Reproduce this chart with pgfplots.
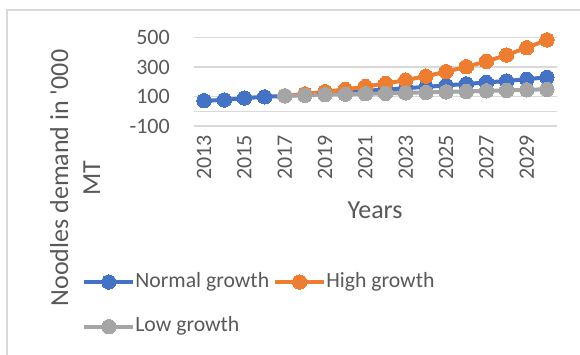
\documentclass[border=0pt]{standalone}
\usepackage{pgfplots}
\pgfplotsset{compat=1.18}
\usepackage{fontspec}
\setmainfont{Carlito}

\definecolor{txt}{HTML}{595959}
\definecolor{gridc}{HTML}{D9D9D9}
\definecolor{nblue}{HTML}{4472C4}
\definecolor{horange}{HTML}{ED7D31}
\definecolor{lgray}{HTML}{A5A5A5}

\pgfplotstableread{
year normal
2013 72
2014 77
2015 90
2016 98
2017 105
2018 114
2019 122
2020 131
2021 139
2022 148
2023 157
2024 166
2025 176
2026 186
2027 196
2028 206
2029 218
2030 231
}\normaldata

\pgfplotstableread{
year high low
2017 105 105
2018 118 109
2019 133 113
2020 149 116
2021 168 119
2022 189 122
2023 212 125
2024 239 128
2025 269 132
2026 303 135
2027 339 139
2028 383 142
2029 432 146
2030 485 150
}\scenariodata

\begin{document}
\begin{tikzpicture}[x=0.75pt,y=-0.75pt]
\useasboundingbox (0,0) rectangle (580,354);
\fill[white] (0,0) rectangle (580,354);
\draw[gridc, line width=0.9pt] (7,400) -- (7,10) -- (620,10);

\begin{axis}[
  at={(145.5pt,-94.5pt)}, anchor=south west,
  scale only axis, width=272.25pt, height=66.2pt,
  xmin=2012.5, xmax=2030.5, ymin=-100, ymax=500,
  clip=false,
  axis line style={draw=none},
  tick style={draw=none},
  ytick={-100,100,300,500},
  yticklabels={-100,100,300,500},
  extra y ticks={0},
  extra y tick labels={},
  extra y tick style={grid=major},
  ymajorgrids,
  major grid style={gridc, line width=1pt},
  xtick={2013,2015,...,2029},
  xticklabels={2013,2015,2017,2019,2021,2023,2025,2027,2029},
  yticklabel style={anchor=east, inner sep=0pt, text=txt, font=\fontsize{16.5}{19}\selectfont},
  yticklabel shift=18pt,
  xticklabel style={rotate=90, anchor=east, inner sep=0pt, text=txt, font=\fontsize{16.5}{19}\selectfont},
  xticklabel shift=6.5pt,
  every axis plot/.append style={line width=3pt, mark=*, mark size=5.4pt},
  legend columns=2,
  legend cell align=left,
  legend style={draw=none, fill=none, inner sep=0pt,
    at={(-0.3085,-1.655)}, anchor=north west,
    font=\fontsize{16.3}{19}\selectfont, text=txt,
    nodes={inner sep=0pt, text height=11pt, text depth=3.5pt},
    row sep=19pt,
    /tikz/every odd column/.append style={column sep=0pt},
    /tikz/every even column/.append style={column sep=3pt}},
  legend image code/.code={
    \draw[mark repeat=2, mark phase=2, #1] plot coordinates {(0pt,0pt) (18.4pt,0pt) (36.8pt,0pt)};
  },
]
\addplot[nblue, mark options={fill=nblue, draw=nblue, line width=0pt}]
  table[x=year, y=normal] {\normaldata};
\addlegendentry{Normal growth}
\addplot[horange, mark options={fill=horange, draw=horange, line width=0pt}]
  table[x=year, y=high] {\scenariodata};
\addlegendentry{High growth}
\addplot[lgray, mark options={fill=lgray, draw=lgray, line width=0pt}]
  table[x=year, y=low] {\scenariodata};
\addlegendentry{Low growth}
\end{axis}

\node[rotate=90, align=center, text=txt, font=\fontsize{19.5}{24}\selectfont] at (75,178)
  {Noodles demand in \textquotesingle 000\\MT};
\node[text=txt, font=\fontsize{19.5}{24}\selectfont] at (375,210) {Years};
\end{tikzpicture}
\end{document}
